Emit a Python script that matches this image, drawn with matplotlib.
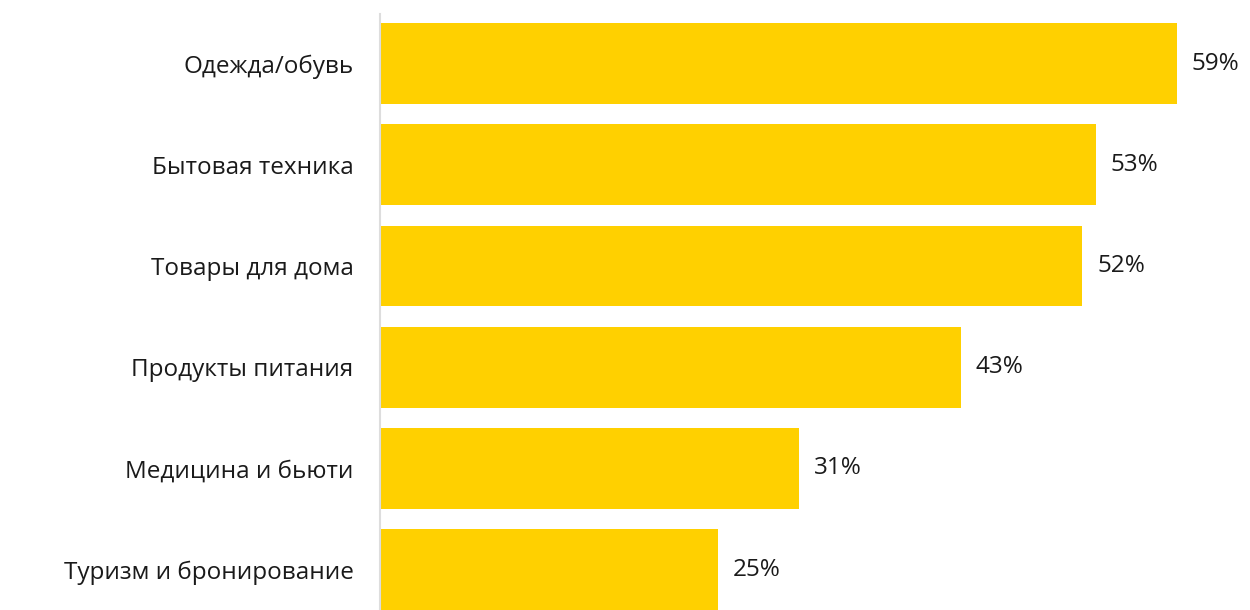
import matplotlib.pyplot as plt

categories = ["Одежда/обувь", "Бытовая техника", "Товары для дома",
              "Продукты питания", "Медицина и бьюти", "Туризм и бронирование"]
values = [59, 53, 52, 43, 31, 25]

plt.rcParams['font.family'] = ['Open Sans', 'DejaVu Sans']

fig = plt.figure(figsize=(12.5, 6.1), dpi=100)
ax = fig.add_axes([0.304, 0.0, 0.696, 0.977])

pos = list(range(len(categories)))
ax.barh(pos, values, height=0.8, color="#FFD000", left=0.07)

for p, v in zip(pos, values):
    ax.annotate(f"{v}%", (v, p), xytext=(11.5, 0), textcoords="offset points",
                va="center", ha="left", fontsize=17.5, color="#1a1a1a")

ax.set_yticks(pos)
ax.set_yticklabels(categories, fontsize=17.5, color="#1a1a1a")
ax.tick_params(axis="y", length=0, pad=19)
ax.set_xticks([])
ax.set_xlim(0, 64.5)
ax.set_ylim(5.4, -0.49)

ax.spines[['top', 'right', 'bottom']].set_visible(False)
ax.spines['left'].set_color("#dddddd")
ax.spines['left'].set_linewidth(1.5)

plt.savefig("out.png", dpi=100)
